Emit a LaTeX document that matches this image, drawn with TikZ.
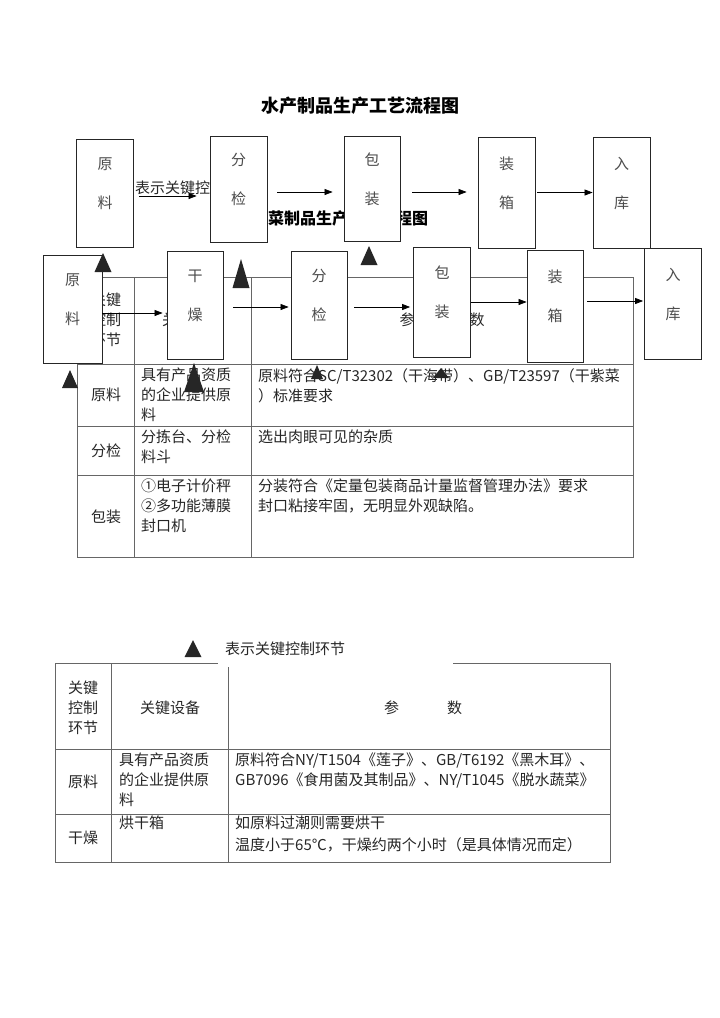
\documentclass[tikz,border=0pt]{standalone}
\usepackage{fontspec}
\setmainfont{Noto Sans CJK SC}
\usetikzlibrary{arrows.meta}
\newcommand{\fsz}[1]{\fontsize{#1}{20}\selectfont}
\newcommand{\keytri}[4]{\fill[tri] ({#1-#4},#3) -- (#1,#2) -- ({#1+#4},#3) -- cycle;}

\begin{document}
\begin{tikzpicture}[
  x=1pt, y=-1pt,
  every node/.style = {font=\fsz{15}, text=black!85, inner sep=0pt},
  ttl/.style   = {font=\fsz{18}\bfseries, text=black},
  stage/.style = {draw=black!85, fill=white, line width=.8pt, minimum width=57pt,
                  minimum height=108pt, align=center, text=black!70},
  cell/.style  = {anchor=north west, align=left},
  mid/.style   = {align=center},
  grid/.style  = {draw=black!60, line width=.8pt},
  arr/.style   = {-{Triangle[length=8pt,width=6pt]}, line width=.7pt},
  tri/.style   = {fill=black!85},
]
\useasboundingbox (0,0) rectangle (720,1018);

% titles and key text (partly hidden behind the boxes)
\node[ttl] (ttl) at (360,106) {水产制品生产工艺流程图};
\node[ttl, font=\fsz{16}\bfseries, anchor=west] (ttl2) at (268,218) {菜制品生产工艺流程图};
\node[anchor=west] (key1) at (135,188) {表示关键控制环节};

% first table
\draw[grid] (77,277) rectangle (633,557);
\draw[grid] (134,277) -- (134,557) (251,277) -- (251,557);
\foreach \y in {364,426,475} \draw[grid] (77,\y) -- (633,\y);
\node[mid] (h1a) at (106,320) {关键\\控制\\环节};
\node[mid] (h1b) at (192,320) {关键设备};
\node[mid] (h1c) at (442,320) {参\hspace{55pt}数};
\node[mid] (r1a) at (106,395) {原料};
\node[cell] (r1b) at (141,368) {具有产品资质\\的企业提供原\\料};
\node[cell] (r1c) at (258,368) {原料符合SC/T32302（干海带）、GB/T23597（干紫菜\\）标准要求};
\node[mid] (r2a) at (106,451) {分检};
\node[cell] (r2b) at (141,430) {分拣台、分检\\料斗};
\node[cell] (r2c) at (258,430) {选出肉眼可见的杂质};
\node[mid] (r3a) at (106,517) {包装};
\node[cell] (r3b) at (141,479) {①电子计价秤\\②多功能薄膜\\封口机};
\node[cell] (r3c) at (258,479) {分装符合《定量包装商品计量监督管理办法》要求\\封口粘接牢固，无明显外观缺陷。};

% second flow row
\node[stage, minimum width=59pt] (yl2) at (72.5,309.5) {原\\[19pt]料\\ \mbox{}};
\node[stage, minimum width=56pt] (gz2) at (195,305) {干\\[19pt]燥\\ \mbox{}};
\node[stage, minimum width=56pt] (fj2) at (319,305) {分\\[19pt]检\\ \mbox{}};
\node[stage, minimum height=110pt] (bz2) at (442,302) {包\\[19pt]装\\ \mbox{}};
\node[stage, minimum width=56pt, minimum height=112pt] (zx2) at (555,306) {装\\[19pt]箱\\ \mbox{}};
\node[stage, minimum height=111pt] (rk2) at (673,303.5) {入\\[19pt]库\\ \mbox{}};

% first flow row
\node[stage] (yl1) at (105,193) {原\\[19pt]料\\ \mbox{}};
\node[stage, minimum height=106pt] (fj1) at (238.5,189) {分\\[19pt]检\\ \mbox{}};
\node[stage, minimum width=56pt, minimum height=105pt] (bz1) at (372,188.5) {包\\[19pt]装\\ \mbox{}};
\node[stage, minimum height=111pt] (zx1) at (506.5,192.5) {装\\[19pt]箱\\ \mbox{}};
\node[stage, minimum height=111pt] (rk1) at (621.5,192.5) {入\\[19pt]库\\ \mbox{}};

\draw[arr, shorten <=5pt, shorten >=13pt] ([yshift=-3pt]yl1.east) -- ([yshift=-3pt]yl1.east -| fj1.west);
\draw[arr, shorten <=10pt, shorten >=11pt] ([yshift=-3pt]fj1.east) -- ([yshift=-3pt]fj1.east -| bz1.west);
\draw[arr, shorten <=12pt, shorten >=11pt] ([yshift=-3.5pt]bz1.east) -- ([yshift=-3.5pt]bz1.east -| zx1.west);
\draw[arr, shorten <=2pt] (zx1.east) -- (zx1.east -| rk1.west);

\draw[arr, shorten >=4pt] ([yshift=-3.5pt]yl2.east) -- ([yshift=-3.5pt]yl2.east -| gz2.west);
\draw[arr, shorten <=10pt, shorten >=2pt] ([yshift=-2pt]gz2.east) -- ([yshift=-2pt]gz2.east -| fj2.west);
\draw[arr, shorten <=7pt, shorten >=3pt] ([yshift=-2pt]fj2.east) -- ([yshift=-2pt]fj2.east -| bz2.west);
\draw[arr] (bz2.east) -- (bz2.east -| zx2.west);
\draw[arr, shorten <=4pt, shorten >=1pt] ([yshift=5pt]zx2.east) -- ([yshift=5pt]zx2.east -| rk2.west);

% key control points
\keytri{103}{253}{272}{8.5}
\keytri{241}{259}{288}{8.5}
\keytri{369}{246}{265}{8.5}
\keytri{70}{370}{388}{8}
\keytri{194}{363}{392}{10}
\keytri{317}{365}{379}{6}
\keytri{441}{368}{378}{8}

% second table
\draw[grid] (55,663) rectangle (610,862);
\draw[grid] (111,663) -- (111,862) (228,663) -- (228,862);
\foreach \y in {749,814} \draw[grid] (55,\y) -- (610,\y);
\node[mid] (h2a) at (83,708) {关键\\控制\\环节};
\node[mid] (h2b) at (170,708) {关键设备};
\node[mid] (h2c) at (423,708) {参\hspace{48pt}数};
\node[mid] (s1a) at (83,782) {原料};
\node[cell] (s1b) at (119,753) {具有产品资质\\的企业提供原\\料};
\node[cell] (s1c) at (235,753) {原料符合NY/T1504《莲子》、GB/T6192《黑木耳》、\\GB7096《食用菌及其制品》、NY/T1045《脱水蔬菜》};
\node[mid] (s2a) at (83,838) {干燥};
\node[cell] (s2b) at (119,816) {烘干箱};
\node[cell] (s2c) at (235,816) {如原料过潮则需要烘干\\[2pt]温度小于65℃，干燥约两个小时（是具体情况而定）};

% legend
\node[fill=white, anchor=north west, minimum width=235pt, minimum height=36pt,
      text width=221pt, inner xsep=7pt, align=left] (key2) at (218,631) {表示关键控制环节};
\keytri{193}{640}{657}{8.5}
\end{tikzpicture}
\end{document}
